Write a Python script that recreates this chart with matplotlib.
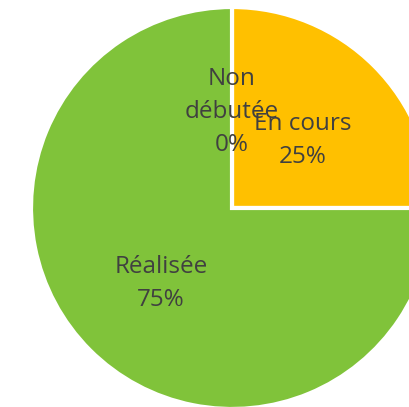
import matplotlib
matplotlib.use("Agg")
import matplotlib.pyplot as plt

# data
categories = ["Non\ndébutée", "En cours", "Réalisée"]
values = [0, 25, 75]
colors = ["#4472C4", "#FFC000", "#80C33A"]

total = sum(values)
labels = [f"{c}\n{round(v / total * 100)}%" for c, v in zip(categories, values)]

fig = plt.figure(figsize=(4.09, 4.07), dpi=100)
ax = fig.add_axes([0, 0, 1, 1])

wedges, texts = ax.pie(values, labels=labels, colors=colors, startangle=90,
                       counterclock=False, labeldistance=0.5, radius=1,
                       wedgeprops=dict(edgecolor="white", linewidth=3))

# centre of pie sits at pixel (232, 208), radius ~201 px
r_px = 201.0

for t in texts:
    t.set_fontsize(17.5)
    t.set_color("#404040")
    t.set_family("Open Sans")
    t.set_ha("center")
    t.set_va("center")
    t.set_linespacing(1.5)
    x, y = t.get_position()
    t.set_position((x, y - 4 / r_px))  # nudge down a little

ax.set_aspect("auto")
ax.set_xlim(-232 / r_px, (409 - 232) / r_px)
ax.set_ylim(-(407 - 208) / r_px, 208 / r_px)
ax.axis("off")

fig.savefig("out.png", dpi=100)
